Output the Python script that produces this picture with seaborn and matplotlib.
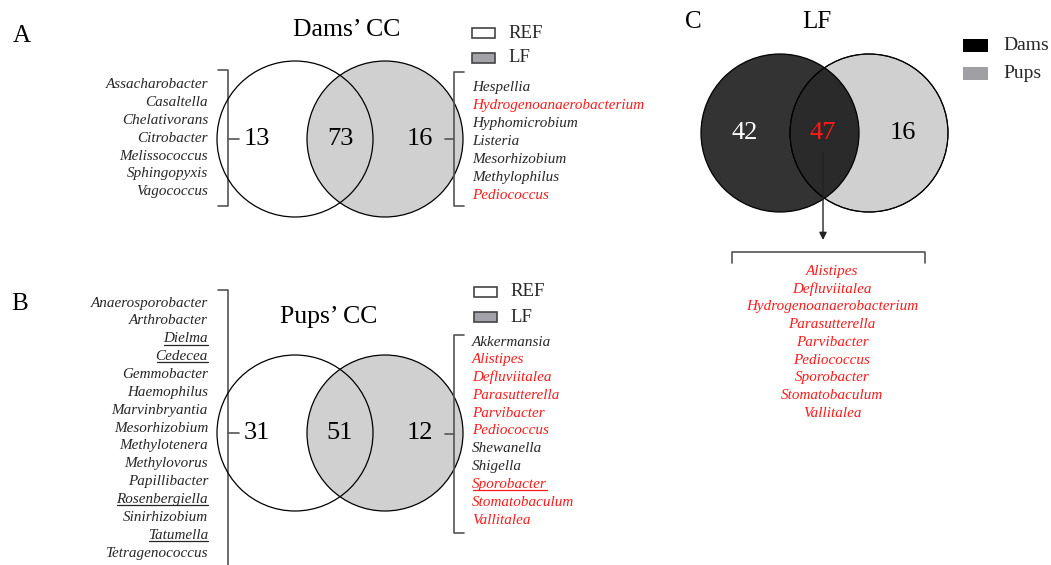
import seaborn as sns
import matplotlib.pyplot as plt
from matplotlib.patches import Circle, Rectangle

# ---- data -------------------------------------------------------------
dams_counts = [13, 73, 16]      # REF only, shared, LF only
pups_counts = [31, 51, 12]
lf_counts = [42, 47, 16]        # Dams only, shared, Pups only

dams_ref_only = ["Assacharobacter", "Casaltella", "Chelativorans", "Citrobacter",
                 "Melissococcus", "Sphingopyxis", "Vagococcus"]
dams_lf_only = ["Hespellia", "Hydrogenoanaerobacterium", "Hyphomicrobium", "Listeria",
                "Mesorhizobium", "Methylophilus", "Pediococcus"]
pups_ref_only = ["Anaerosporobacter", "Arthrobacter", "Dielma", "Cedecea", "Gemmobacter",
                 "Haemophilus", "Marvinbryantia", "Mesorhizobium", "Methylotenera",
                 "Methylovorus", "Papillibacter", "Rosenbergiella", "Sinirhizobium",
                 "Tatumella", "Tetragenococcus"]
pups_lf_only = ["Akkermansia", "Alistipes", "Defluviitalea", "Parasutterella", "Parvibacter",
                "Pediococcus", "Shewanella", "Shigella", "Sporobacter", "Stomatobaculum",
                "Vallitalea"]
lf_shared = ["Alistipes", "Defluviitalea", "Hydrogenoanaerobacterium", "Parasutterella",
             "Parvibacter", "Pediococcus", "Sporobacter", "Stomatobaculum", "Vallitalea"]

red_names = set(lf_shared)
underlined_ref = {"Dielma", "Cedecea", "Rosenbergiella", "Tatumella"}
underlined_lf = {"Sporobacter"}
# ----------------------------------------------------------------------

sns.set_theme(style="white")
plt.rcParams['font.family'] = ['Liberation Serif', 'DejaVu Serif']

W, H = 1051, 565
fig = plt.figure(figsize=(W / 100, H / 100), dpi=100)
ax = fig.add_axes([0, 0, 1, 1])
ax.set_xlim(0, W)
ax.set_ylim(H, 0)
ax.set_aspect('equal')
ax.axis('off')

TXT = '#262626'
RED = '#ff1a1a'
GRAY = '#d0d0d0'
BR = '#555555'
renderer = fig.canvas.get_renderer()


def name_list(names, x, y0, step, ha, force_red=False, under=()):
    for i, n in enumerate(names):
        y = y0 + i * step
        col = RED if (force_red or n in red_names) else TXT
        t = ax.text(x, y, n, ha=ha, va='center', fontsize=10.9, style='italic', color=col)
        if n in under:
            bb = t.get_window_extent(renderer).transformed(ax.transData.inverted())
            ax.plot([bb.x0 + 1, bb.x1], [y + 5.8, y + 5.8], color=col, lw=0.9)


def venn_two(cx, cy, counts):
    r = 78
    ax.add_patch(Circle((cx, cy), r, fc='white', ec='none', zorder=1))
    ax.add_patch(Circle((cx + 90, cy), r, fc=GRAY, ec='black', lw=0.9, zorder=2))
    ax.add_patch(Circle((cx, cy), r, fc='none', ec='black', lw=0.9, zorder=3))
    for dx, c in zip([-38, 45, 125], counts):
        ax.text(cx + dx, cy, str(c), ha='center', va='center', fontsize=19, color='black', zorder=4)


def legend_two(x, y, labels, fills):
    for i, (lab, fc) in enumerate(zip(labels, fills)):
        yy = y + i * 25
        ax.add_patch(Rectangle((x, yy - 5), 23, 10, fc=fc, ec='#444444', lw=1.2))
        ax.text(x + 36, yy, lab, ha='left', va='center', fontsize=13.5, color=TXT)


def left_bracket(x, y0, y1, ym):
    ax.plot([x - 10, x, x, x - 10], [y0, y0, y1, y1], color=BR, lw=1.2, solid_joinstyle='round')
    ax.plot([x, x + 11], [ym, ym], color=BR, lw=1.2)


def right_bracket(x, y0, y1, ym):
    ax.plot([x + 10, x, x, x + 10], [y0, y0, y1, y1], color=BR, lw=1.2, solid_joinstyle='round')
    ax.plot([x, x - 9], [ym, ym], color=BR, lw=1.2)


# Panel A
ax.text(22, 36, "A", ha='center', va='center', fontsize=18, color='black')
ax.text(347, 30, "Dams\u2019 CC", ha='center', va='center', fontsize=18.5, color='black')
venn_two(295, 139, dams_counts)
legend_two(472, 33, ["REF", "LF"], ['white', '#a2a2a8'])
left_bracket(228, 70, 206, 139)
name_list(dams_ref_only, 208, 85, 17.8, 'right')
right_bracket(454, 72, 206, 139)
name_list(dams_lf_only, 472, 88, 17.9, 'left')

# Panel B
ax.text(20, 304, "B", ha='center', va='center', fontsize=18, color='black')
ax.text(329, 317, "Pups\u2019 CC", ha='center', va='center', fontsize=18.5, color='black')
venn_two(295, 433, pups_counts)
legend_two(474, 292, ["REF", "LF"], ['white', '#a2a2a8'])
ax.plot([218, 228, 228], [290, 290, 570], color=BR, lw=1.2)
ax.plot([228, 239], [433, 433], color=BR, lw=1.2)
name_list(pups_ref_only, 208, 303, 17.86, 'right', under=underlined_ref)
right_bracket(454, 335, 533, 434)
name_list(pups_lf_only, 472, 342, 17.8, 'left', under=underlined_lf)

# Panel C
ax.text(693, 22, "C", ha='center', va='center', fontsize=18, color='black')
ax.text(817, 22, "LF", ha='center', va='center', fontsize=18, color='black')
ax.add_patch(Circle((869, 133), 79, fc=GRAY, ec='black', lw=0.9, zorder=1))
ax.add_patch(Circle((780, 133), 79, fc='black', alpha=0.8, ec='none', zorder=2))
ax.add_patch(Circle((780, 133), 79, fc='none', ec='black', lw=0.9, zorder=3))
ax.add_patch(Circle((869, 133), 79, fc='none', ec='black', lw=0.7, zorder=3))
for x, c, col in zip([745, 823, 903], lf_counts, ['white', RED, 'black']):
    ax.text(x, 133, str(c), ha='center', va='center', fontsize=19, color=col, zorder=4)
ax.annotate("", xy=(823, 240), xytext=(823, 153),
            arrowprops=dict(arrowstyle='-|>', color='#222222', lw=1.0,
                            mutation_scale=11, shrinkA=0, shrinkB=0), zorder=5)
ax.plot([732, 732, 925, 925], [263, 252, 252, 263], color=BR, lw=1.2)
name_list(lf_shared, 832, 271, 17.8, 'center', force_red=True)
for i, (lab, fc) in enumerate(zip(["Dams", "Pups"], ['black', '#a0a0a4'])):
    yy = 45 + i * 28
    ax.add_patch(Rectangle((963, yy - 6.5), 25, 13, fc=fc, ec='none'))
    ax.text(1003, yy, lab, ha='left', va='center', fontsize=14, color=TXT)

fig.savefig("out.png", dpi=100)
